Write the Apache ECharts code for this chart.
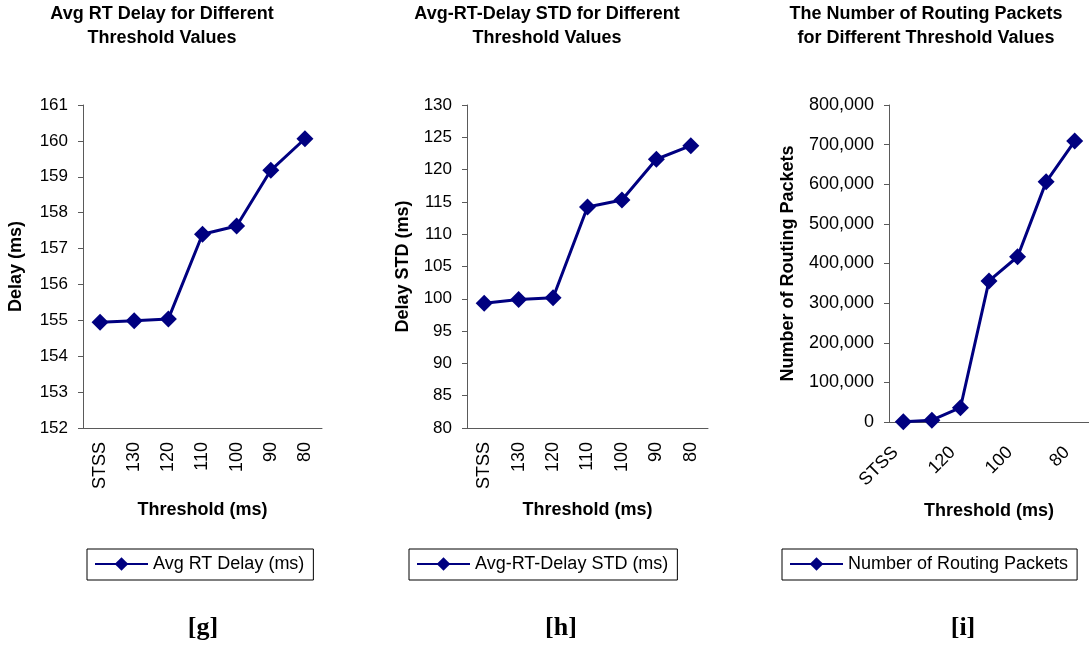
<!DOCTYPE html>
<html>
<head>
<meta charset="utf-8">
<script src="https://cdn.jsdelivr.net/npm/echarts@6/dist/echarts.min.js"></script>
<style>
  html, body { margin: 0; padding: 0; background: #fff; }
  #main { width: 1089px; height: 649px; }
</style>
</head>
<body>
<div id="main"></div>
<script>
// data
var thresholds = ['STSS', '130', '120', '110', '100', '90', '80'];
var avgDelay = [154.95, 154.99, 155.04, 157.40, 157.63, 159.18, 160.06];
var delayStd = [99.3, 99.9, 100.15, 114.2, 115.3, 121.6, 123.7];
var routingPackets = [500, 4500, 36000, 356000, 417000, 606000, 709000];

var FONT = 'Liberation Sans, Arial, sans-serif';
var NAVY = '#000080';
var AXIS = '#5a5a5a';

var chart = echarts.init(document.getElementById('main'));

function xAxisOf(gridIndex, rotate, labelInterval, gap, margin, pad) {
  return {
    type: 'category', gridIndex: gridIndex, data: thresholds,
    boundaryGap: true,
    name: 'Threshold (ms)', nameLocation: 'middle', nameGap: gap,
    nameTextStyle: { fontFamily: FONT, fontWeight: 'bold', fontSize: 18, color: '#000' },
    axisLine: { lineStyle: { color: AXIS, width: 1 } },
    axisTick: { alignWithLabel: false, interval: 0, length: 5, lineStyle: { color: AXIS } },
    axisLabel: { rotate: rotate, interval: labelInterval, margin: margin, padding: pad,
      fontFamily: FONT, fontSize: 18, color: '#000' },
    splitLine: { show: false }
  };
}

function yAxisOf(gridIndex, name, min, max, step, gap, size, fmt) {
  return {
    type: 'value', gridIndex: gridIndex, min: min, max: max, interval: step,
    name: name, nameLocation: 'middle', nameGap: gap,
    nameTextStyle: { fontFamily: FONT, fontWeight: 'bold', fontSize: 18, color: '#000' },
    axisLine: { show: true, lineStyle: { color: AXIS, width: 1 } },
    axisTick: { show: true, length: 5, lineStyle: { color: AXIS } },
    axisLabel: { margin: 15, fontFamily: FONT, fontSize: size, color: '#000', formatter: fmt },
    splitLine: { show: false }
  };
}

function seriesOf(name, idx, values) {
  return {
    name: name, type: 'line', xAxisIndex: idx, yAxisIndex: idx, data: values,
    symbol: 'diamond', symbolSize: 17,
    lineStyle: { color: NAVY, width: 3 },
    itemStyle: { color: NAVY },
    animation: false
  };
}

function legendOf(name, left) {
  return {
    data: [name], left: left, top: 549,
    orient: 'horizontal',
    itemWidth: 53, itemHeight: 17,
    padding: [6, 9, 7, 7],
    borderColor: '#000', borderWidth: 1,
    textStyle: { fontFamily: FONT, fontSize: 18, color: '#000' },
    selectedMode: false
  };
}

function titleText(x, text) {
  return {
    type: 'text', x: x, y: 2,
    style: {
      text: text, textAlign: 'center', textVerticalAlign: 'top',
      font: 'bold 18px ' + FONT, lineHeight: 24, fill: '#000'
    }
  };
}

function tagText(x, text) {
  return {
    type: 'text', x: x, y: 615,
    style: {
      text: text, textAlign: 'center', textVerticalAlign: 'top',
      font: 'bold 26px Liberation Serif, Times New Roman, serif', fill: '#000'
    }
  };
}

chart.setOption({
  backgroundColor: '#fff',
  animation: false,
  grid: [
    { left: 83, top: 105, width: 239, height: 323 },
    { left: 467, top: 105, width: 241, height: 323 },
    { left: 889, top: 105, width: 201, height: 317 }
  ],
  xAxis: [
    xAxisOf(0, 90, 0, 73, 14, 0),
    xAxisOf(1, 90, 0, 73, 14, 0),
    xAxisOf(2, 45, 1, 80, 20, [0, 11, 0, 0])
  ],
  yAxis: [
    yAxisOf(0, 'Delay (ms)', 152, 161, 1, 58, 17),
    yAxisOf(1, 'Delay STD (ms)', 80, 130, 5, 55, 17),
    yAxisOf(2, 'Number of Routing Packets', 0, 800000, 100000, 92, 18, function (v) {
      return v.toString().replace(/\B(?=(\d{3})+(?!\d))/g, ',');
    })
  ],
  legend: [
    legendOf('Avg RT Delay (ms)', 87),
    legendOf('Avg-RT-Delay STD (ms)', 409),
    legendOf('Number of Routing Packets', 782)
  ],
  series: [
    seriesOf('Avg RT Delay (ms)', 0, avgDelay),
    seriesOf('Avg-RT-Delay STD (ms)', 1, delayStd),
    seriesOf('Number of Routing Packets', 2, routingPackets)
  ],
  graphic: [
    titleText(162, 'Avg RT Delay for Different\nThreshold Values'),
    titleText(547, 'Avg-RT-Delay STD for Different\nThreshold Values'),
    titleText(926, 'The Number of Routing Packets\nfor Different Threshold Values'),
    tagText(203, '[g]'),
    tagText(561, '[h]'),
    tagText(963, '[i]')
  ]
});
</script>
</body>
</html>
